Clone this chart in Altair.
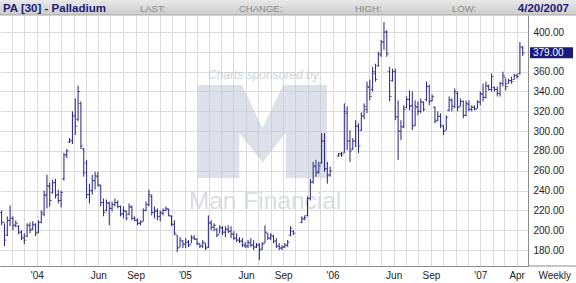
import altair as alt
import pandas as pd

# ---------------- data (weekly OHLC) ----------------
START_WEEK = "2003-10-06"
HIGH = [220,207,214,225,214,210,205,200,197,207,
        208,209,207,210,220,240,256,248,251,252,
        241,240,278,282,293,320,333,346,330,283,
        271,247,256,259,259,246,232,231,229,229,
        232,230,225,224,220,227,225,214,212,210,
        222,229,241,236,224,222,220,222,224,222,
        215,210,195,193,190,192,190,195,195,192,
        187,190,187,215,210,207,202,205,204,204,
        205,204,199,197,193,192,188,190,192,190,
        187,187,188,205,197,197,195,192,187,185,
        187,190,204,200,None,None,214,215,234,252,
        269,271,269,298,298,269,264,None,None,278,
        279,328,325,301,293,311,308,319,328,350,
        352,365,368,380,392,410,402,365,363,363,
        331,311,326,335,341,340,331,330,333,330,
        350,347,337,325,320,318,306,316,335,333,
        343,340,333,331,331,331,326,326,331,340,
        348,350,347,358,345,345,350,360,353,353,
        355,358,358,390,386]
LOW = [205,184,194,204,200,203,196,190,186,193,
       197,200,194,197,207,214,222,224,237,232,
       227,223,250,273,288,287,296,310,282,254,
       232,227,236,241,244,224,214,219,205,219,
       224,222,214,212,210,215,210,209,205,205,
       209,219,224,215,212,210,209,215,219,214,
       204,195,178,183,182,182,183,187,190,185,
       182,182,180,182,200,199,193,197,195,193,
       197,192,190,188,187,183,182,182,183,180,
       182,170,180,187,190,190,187,182,180,180,
       182,183,194,195,None,None,207,210,214,230,
       247,254,257,267,259,247,254,None,None,274,
       274,278,281,269,281,284,278,300,312,318,
       331,340,350,365,375,382,375,330,350,311,
       271,291,303,323,321,301,305,316,318,320,
       330,326,330,308,310,303,296,301,320,320,
       323,320,325,313,315,320,320,321,323,326,
       330,333,341,340,340,335,335,345,341,348,
       348,352,353,357,376]
OPEN = [218,208,195,210,212,205,204,198,192,194,
        205,201,205,198,208,216,236,244,238,248,
        236,230,252,276,289,290,315,312,328,282,
        268,236,240,250,254,245,228,220,227,222,
        226,228,224,217,219,216,223,212,210,207,
        209,220,226,234,218,219,214,217,220,221,
        214,206,195,183,189,186,188,186,192,191,
        186,184,187,183,207,203,201,196,202,198,
        201,199,196,192,190,189,185,184,187,185,
        183,185,181,187,197,192,194,189,184,182,
        183,185,195,199,None,None,208,211,215,232,
        249,264,259,268,290,262,256,None,None,275,
        277,278,318,290,282,290,305,301,315,322,
        344,342,358,366,377,390,400,360,351,360,
        314,300,304,324,332,326,306,324,320,329,
        332,345,331,324,311,315,305,301,321,331,
        325,338,325,330,316,327,322,324,323,329,
        337,334,345,342,344,342,338,348,354,348,
        351,352,356,358,384]
CLOSE = [208,190,210,212,205,207,198,193,190,205,
         200,206,197,208,218,235,245,230,248,235,
         230,238,276,280,291,316,305,340,285,258,
         236,240,250,255,246,228,218,228,222,226,
         228,224,216,220,212,224,212,210,207,208,
         220,226,236,218,220,214,218,220,222,215,
         206,197,182,190,186,188,185,193,191,187,
         184,188,182,208,203,205,195,203,198,201,
         199,196,192,190,189,185,184,188,185,183,
         185,180,186,198,192,195,189,184,182,183,
         185,188,202,197,None,None,212,213,232,248,
         265,258,265,290,262,255,260,None,None,277,
         276,320,290,280,290,305,285,316,325,345,
         335,360,352,378,390,400,378,335,360,315,
         300,305,322,332,325,305,325,320,330,322,
         345,330,335,310,315,306,300,314,332,325,
         340,324,330,316,328,322,324,322,330,338,
         334,346,342,355,342,338,348,356,345,351,
         350,356,355,385,379]

TICK_MONTHS = ["2004-01", "2004-06", "2004-09", "2005-01", "2005-06", "2005-09",
               "2006-01", "2006-06", "2006-09", "2007-01", "2007-04"]
Y_TICKS = [180, 200, 220, 240, 260, 280, 300, 320, 340, 360, 380, 400]
LAST_PRICE = 379.0
TITLE = "PA [30] - Palladium"
DATE_TEXT = "4/20/2007"
HEADER_FIELDS = ["LAST:", "CHANGE:", "HIGH:", "LOW:"]

# ---------------- frame ----------------
dates = pd.date_range(START_WEEK, periods=len(HIGH), freq="7D")
df = pd.DataFrame({"date": dates, "high": HIGH, "low": LOW,
                   "open": OPEN, "close": CLOSE}).dropna()

months = pd.date_range("2003-10-01", "2007-04-01", freq="MS")
month_vals = [alt.DateTime(year=int(m.year), month=int(m.month), date=1) for m in months]

tick_list = ",".join("'" + m + "'" for m in TICK_MONTHS)
label_expr = ("indexof([" + tick_list + "], timeFormat(datum.value, '%Y-%m')) >= 0 ? "
              "(month(datum.value) == 0 ? \"'\" + timeFormat(datum.value, '%y') : "
              "timeFormat(datum.value, '%b')) : ''")

NAVY = "#23237e"
GRID = "#dcdcdc"
FONT = "Liberation Sans"

X_SCALE = alt.Scale(domain=[alt.DateTime(year=2003, month=10, date=2),
                            alt.DateTime(year=2007, month=4, date=29)])
X_AXIS = alt.Axis(values=month_vals, labelExpr=label_expr, title=None, grid=True,
                  gridColor=GRID, ticks=False, domain=True, domainColor="#8c8c8c",
                  labelFontSize=10, labelColor="#222222", labelPadding=4,
                  labelFlush=False, labelOverlap=False, labelFont=FONT)
Y_SCALE = alt.Scale(domain=[163.9, 417.2], nice=False, zero=False)
Y_AXIS = alt.Axis(orient="right", values=Y_TICKS, title=None, grid=True, gridColor=GRID,
                  ticks=False, domain=True, domainColor="#8c8c8c",
                  labelExpr="datum.value == 380 ? '' : format(datum.value, '.2f')",
                  labelFontSize=10, labelColor="#222222", labelPadding=5, labelFont=FONT)

X = alt.X("date:T", scale=X_SCALE, axis=X_AXIS)

one = pd.DataFrame({"k": [0]})

def pix_text(text, x, y, **kw):
    return alt.Chart(one).mark_text(text=text, **kw).encode(x=alt.value(x), y=alt.value(y))

# watermark: block "M" logo drawn as a custom symbol path
M_PATH = ("M -1 -0.72 L -0.32 -0.72 L 0 -0.05 L 0.32 -0.72 L 1 -0.72 L 1 0.72 "
          "L 0.36 0.72 L 0.36 0.02 L 0 0.48 L -0.36 0.02 L -0.36 0.72 L -1 0.72 Z")
wm_logo = alt.Chart(one).mark_point(shape=M_PATH, size=129 * 129, filled=True,
                                    color="#b9c2d3", opacity=0.5, strokeWidth=0).encode(
    x=alt.value(262.5), y=alt.value(116.5))
wm_top = pix_text("Charts sponsored by:", 265, 60, font=FONT, fontStyle="italic",
                  fontSize=12, align="center", baseline="middle", color="#c4c9d2", opacity=0.8)
wm_name = pix_text("Man Financial", 265, 194, font=FONT,
                   fontSize=24.5, align="center", baseline="alphabetic", color="#c9cfdb", opacity=0.7)

base = alt.Chart(df).encode(x=X)
hl = base.mark_rule(color=NAVY, strokeWidth=1).encode(
    y=alt.Y("low:Q", scale=Y_SCALE, axis=Y_AXIS), y2="high:Q")
op = base.mark_tick(orient="horizontal", size=2, thickness=1, xOffset=-1, color=NAVY).encode(
    y=alt.Y("open:Q", scale=Y_SCALE, axis=Y_AXIS))
cl = base.mark_tick(orient="horizontal", size=2, thickness=1, xOffset=1, color=NAVY).encode(
    y=alt.Y("close:Q", scale=Y_SCALE, axis=Y_AXIS))

# last price box
box = alt.Chart(one).mark_rect(color="#1a1a7c", yOffset=-5.5, y2Offset=5.5).encode(
    x=alt.value(530), x2=alt.value(573),
    y=alt.YDatum(LAST_PRICE, scale=Y_SCALE, axis=Y_AXIS), y2=alt.Y2Datum(LAST_PRICE))
box_txt = alt.Chart(one).mark_text(text="379.00", align="left", baseline="middle",
                                   color="white", fontSize=10, font=FONT).encode(
    x=alt.value(533), y=alt.YDatum(LAST_PRICE, scale=Y_SCALE, axis=Y_AXIS))

# header bar
header = alt.Chart(one).mark_rect(
    color=alt.Gradient(gradient="linear",
                       stops=[alt.GradientStop(color="#e8e8e8", offset=0),
                              alt.GradientStop(color="#cbcbcb", offset=1)],
                       x1=0, x2=0, y1=0, y2=1)).encode(
    x=alt.value(0), x2=alt.value(576), y=alt.value(-15), y2=alt.value(0))
header_line = alt.Chart(one).mark_rule(color="#a8a8a8").encode(
    x=alt.value(0), x2=alt.value(576), y=alt.value(0))
bottom_ext = alt.Chart(one).mark_rule(color="#8c8c8c").encode(
    x=alt.value(528), x2=alt.value(576), y=alt.value(251))

h_title = pix_text(TITLE, 3, -3, font=FONT, fontWeight="bold", fontSize=11.5,
                   align="left", baseline="alphabetic", color="#1c1c7a")
h_date = pix_text(DATE_TEXT, 569, -3, font=FONT, fontWeight="bold", fontSize=11.5,
                  align="right", baseline="alphabetic", color="#1c1c7a")
h_fields = [pix_text(t, x, -3.5, font=FONT, fontSize=9.5, align="left",
                     baseline="alphabetic", color="#8a8a8a")
            for t, x in zip(HEADER_FIELDS, [140, 239, 355, 452])]
weekly = pix_text("Weekly", 571, 261, font=FONT, fontSize=10, align="right",
                  baseline="middle", color="#222222")

chart = alt.layer(
    wm_logo, wm_top, wm_name, hl, op, cl, box, box_txt,
    header, header_line, bottom_ext, h_title, h_date, *h_fields, weekly
).properties(
    width=528, height=251,
    padding={"left": 0, "top": 15, "right": 48, "bottom": 17},
    autosize=alt.AutoSizeParams(type="none"),
    background="white",
).configure_view(stroke=None)

chart.save("out.html", embed_options={"renderer": "svg", "actions": False})
